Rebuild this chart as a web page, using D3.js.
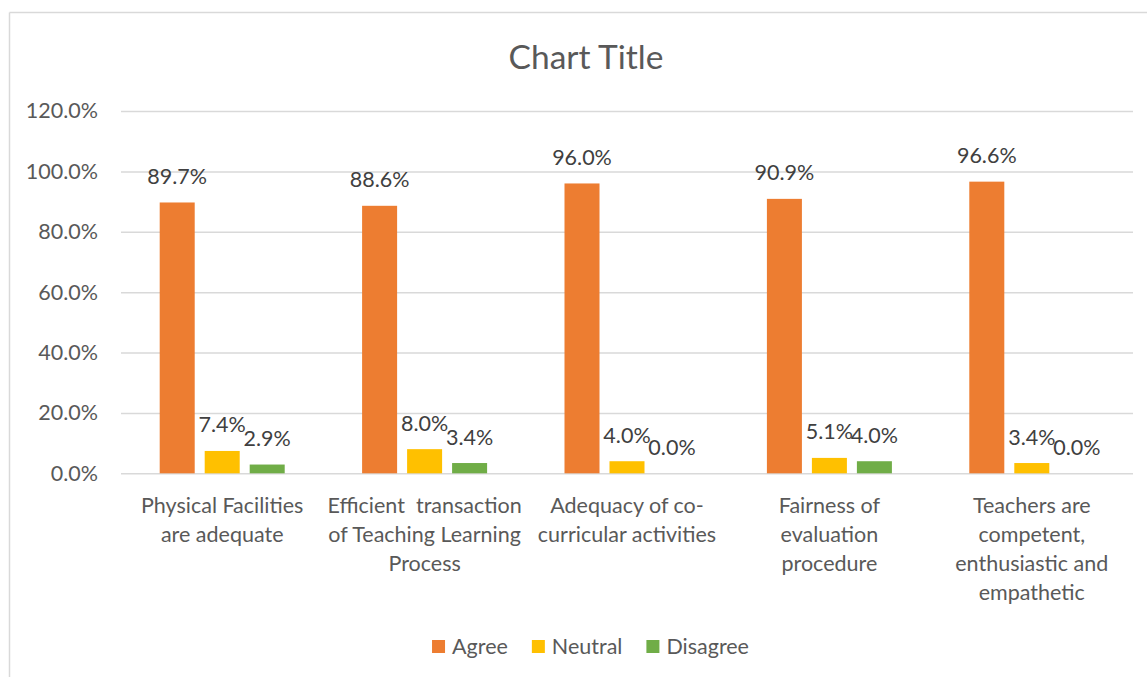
<!DOCTYPE html>
<html>
<head>
<meta charset="utf-8">
<script src="https://cdn.jsdelivr.net/npm/d3@7"></script>
<style>
html, body { margin: 0; padding: 0; background: #fff; }
svg { display: block; font-family: Lato, "Open Sans", sans-serif; }
</style>
</head>
<body>
<svg id="bar_chart_svg" width="1147" height="677" viewBox="0 0 1147 677"></svg>
<script>
var categories = ["Physical Facilities are adequate",
                  "Efficient  transaction of Teaching Learning Process",
                  "Adequacy of co-curricular activities",
                  "Fairness of evaluation procedure",
                  "Teachers are competent, enthusiastic and empathetic"];
// wrapped the way the original shows them
var categoryLines = [["Physical Facilities", "are adequate"],
                     ["Efficient  transaction", "of Teaching Learning", "Process"],
                     ["Adequacy of co-", "curricular activities"],
                     ["Fairness of", "evaluation", "procedure"],
                     ["Teachers are", "competent,", "enthusiastic and", "empathetic"]];
var seriesNames = ["Agree", "Neutral", "Disagree"];
var agreeValues = [0.897, 0.886, 0.960, 0.909, 0.966];
var neutralValues = [0.074, 0.080, 0.040, 0.051, 0.034];
var disagreeValues = [0.029, 0.034, 0.000, 0.040, 0.000];
var yTicks = [0, 0.2, 0.4, 0.6, 0.8, 1.0, 1.2];
var seriesColors = ["#ED7D31", "#FFC000", "#70AD47"];

var fontStack = "Lato, 'Open Sans', sans-serif";
var svg = d3.select("#bar_chart_svg");
var width = 1147;
var height = 677;
var margin = { top: 111, bottom: 203.7, left: 121, right: 14 };
var innerWidth = width - margin.left - margin.right;
var innerHeight = height - margin.top - margin.bottom;

var seriesValues = [agreeValues, neutralValues, disagreeValues];
var rows = categories.map(function(c, i) {
    return { category: c, values: seriesNames.map(function(s, j) {
        return { series: s, value: seriesValues[j][i], color: seriesColors[j] };
    }) };
});

// chart frame: left and top edges show, the rest runs off the picture
svg.append("line")
    .attr("x1", 9.5).attr("y1", 12.5).attr("x2", 9.5).attr("y2", height)
    .attr("stroke", "#d9d9d9").attr("stroke-width", 1.5);
svg.append("line")
    .attr("x1", 9.5).attr("y1", 12.5).attr("x2", width).attr("y2", 12.5)
    .attr("stroke", "#d9d9d9").attr("stroke-width", 1.5);

svg.append("text")
    .attr("x", 586)
    .attr("y", 69)
    .attr("text-anchor", "middle")
    .attr("font-family", fontStack)
    .attr("font-size", 33.5)
    .attr("fill", "#595959")
    .text("Chart Title");

var g = svg.append("g").attr("transform", `translate(${margin.left}, ${margin.top})`);

var x0 = d3.scaleBand().domain(categories).range([0, innerWidth]);
var x1 = d3.scaleBand().domain(seriesNames).range([0, x0.bandwidth()])
            .paddingInner(0.222).paddingOuter(0.86);
var yScale = d3.scaleLinear().domain([0, 1.2]).range([innerHeight, 0]);

//Y axis with gridlines
var yAxis = g.append("g")
    .call(d3.axisLeft(yScale).tickValues(yTicks).tickSize(-innerWidth).tickPadding(23)
            .tickFormat(d3.format(".1%")))
    .attr("font-family", fontStack)
    .attr("font-size", 21.5);
yAxis.select(".domain").remove();
yAxis.selectAll("line").attr("stroke", "#d9d9d9").attr("stroke-width", 1.5);
yAxis.selectAll("text").attr("fill", "#595959");

//Bars
var groups = g.selectAll(".cat")
    .data(rows)
    .enter()
    .append("g")
    .attr("class", "cat")
    .attr("transform", d => `translate(${x0(d.category)}, 0)`);

groups.selectAll("rect")
    .data(d => d.values)
    .enter()
    .append("rect")
    .attr("x", d => x1(d.series))
    .attr("y", d => yScale(d.value))
    .attr("width", x1.bandwidth())
    .attr("height", d => innerHeight - yScale(d.value))
    .attr("fill", d => d.color);

//Data labels
groups.selectAll(".lbl")
    .data(d => d.values)
    .enter()
    .append("text")
    .attr("class", "lbl")
    .attr("x", d => x1(d.series) + x1.bandwidth() / 2)
    .attr("y", d => yScale(d.value) - 18.5)
    .attr("text-anchor", "middle")
    .attr("font-family", fontStack)
    .attr("font-size", 21.5)
    .attr("fill", "#404040")
    .text(d => d3.format(".1%")(d.value));

//X labels
var xAxis = g.append("g")
    .attr("transform", `translate(0,${innerHeight})`)
    .call(d3.axisBottom(x0).tickSize(0).tickFormat(""))
    .attr("font-family", fontStack)
    .attr("font-size", 21.5);
xAxis.select(".domain").remove();
xAxis.selectAll(".tick").each(function(d, i) {
    var t = d3.select(this).append("text")
        .attr("text-anchor", "middle")
        .attr("fill", "#595959")
        .attr("xml:space", "preserve");
    categoryLines[i].forEach(function(line, k) {
        t.append("tspan").attr("x", 0).attr("y", 39.7 + k * 29).text(line);
    });
});

//Legend
var legend = svg.append("g").attr("transform", "translate(0, 654)");
var items = legend.selectAll("g")
    .data(seriesNames)
    .enter()
    .append("g");
items.append("rect")
    .attr("y", -14)
    .attr("width", 13)
    .attr("height", 13)
    .attr("fill", (d, i) => seriesColors[i]);
items.append("text")
    .attr("x", 20)
    .attr("font-family", fontStack)
    .attr("font-size", 21.5)
    .attr("fill", "#595959")
    .text(d => d);
var widths = [];
items.selectAll("text").each(function() { widths.push(this.getComputedTextLength()); });
var total = d3.sum(widths) + widths.length * 20 + (widths.length - 1) * 24;
var cursor = 590.5 - total / 2;
items.attr("transform", function(d, i) {
    var tx = cursor;
    cursor += 20 + widths[i] + 24;
    return `translate(${tx}, 0)`;
});
</script>
</body>
</html>
